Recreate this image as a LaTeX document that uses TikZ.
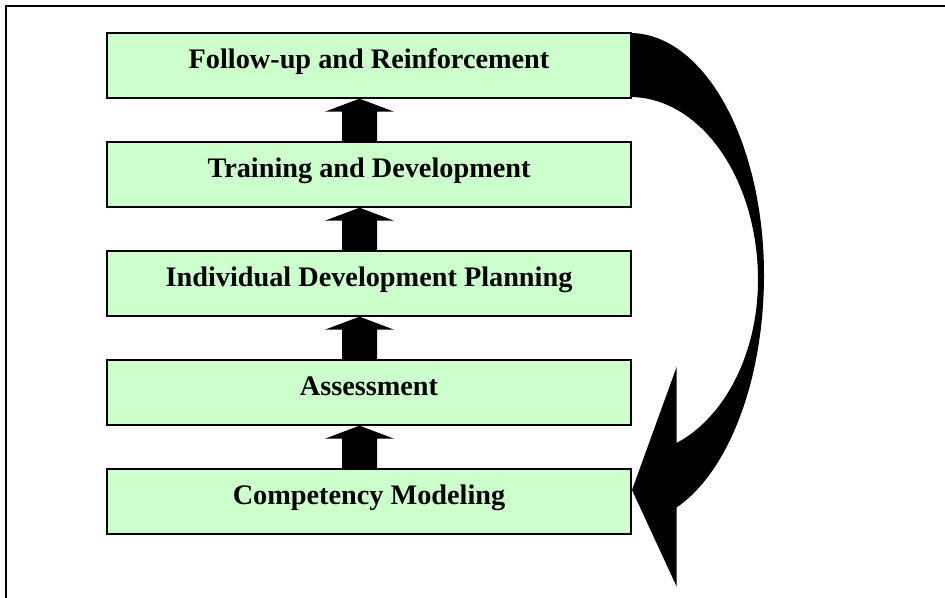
\documentclass[tikz,border=0pt]{standalone}
\usepackage{fontspec}
\setmainfont{Liberation Serif}
\usetikzlibrary{calc}
\definecolor{boxgreen}{HTML}{CCFFCC}
\tikzset{
  stage/.style={draw=black, line width=1pt, fill=boxgreen, rectangle,
    minimum width=393pt, minimum height=48.75pt, inner sep=0pt,
    text height=12pt, text depth=7pt,
    font=\fontsize{21.2}{25}\selectfont\bfseries},
  uparrow/.style={fill=black},
  bigarrow/.style={fill=black},
  frameline/.style={line width=1.5pt, draw=black}
}
\begin{document}
\begin{tikzpicture}[x=0.75pt,y=-0.75pt]
\useasboundingbox (0,0) rectangle (945,598);
\draw[frameline] (6,598) -- (6,6) -- (945,6);

% boxes (names) placed first as coordinates for arrows, drawn after
\path (369,65.5) coordinate (c1) (369,174.5) coordinate (c2) (369,283.5) coordinate (c3)
      (369,392.5) coordinate (c4) (369,501.5) coordinate (c5);

% big curved arrow
\fill[bigarrow] (630,33)
  -- plot[domain=90:0, samples=50, variable=\t] ({630+134*cos(\t)},{275-242*sin(\t)})
  -- plot[domain=0:-69.6, samples=50, variable=\t] ({630+134*cos(\t)},{275-248*sin(\t)})
  -- (676.7,586.7) -- (632,490) -- (676.7,366.7) -- (676.7,443)
  -- plot[domain=-68.6:0, samples=50, variable=\t] ({630+128*cos(\t)},{280-175*sin(\t)})
  -- plot[domain=0:90, samples=50, variable=\t] ({630+128*cos(\t)},{280-183*sin(\t)})
  -- cycle;

\node[stage] (b1) at (c1) {Follow-up and Reinforcement};
\node[stage] (b2) at (c2) {Training and Development};
\node[stage] (b3) at (c3) {Individual Development Planning};
\node[stage] (b4) at (c4) {Assessment};
\node[stage] (b5) at (c5) {Competency Modeling};

% small up arrows between boxes
\foreach \u/\l in {b1/b2, b2/b3, b3/b4, b4/b5}{
  \fill[uparrow] ($(\l.north)+(-27,0)$) -- ($(\u.south)+(-27,13)$) -- ($(\u.south)+(-44,13)$)
    -- ($(\u.south)+(-9.5,0)$) -- ($(\u.south)+(25,13)$) -- ($(\u.south)+(8,13)$)
    -- ($(\l.north)+(8,0)$) -- cycle;
}
\end{tikzpicture}
\end{document}
